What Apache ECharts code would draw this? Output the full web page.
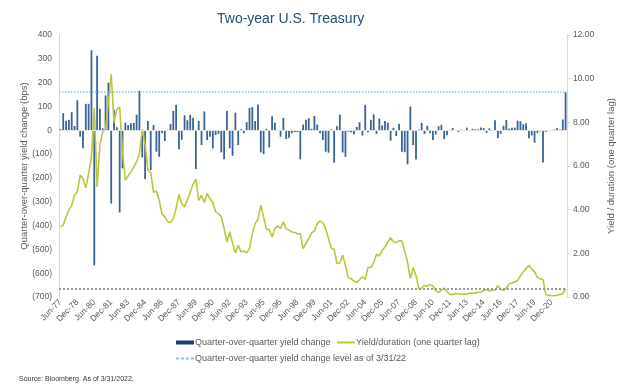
<!DOCTYPE html>
<html><head><meta charset="utf-8">
<script src="https://cdn.jsdelivr.net/npm/echarts@6/dist/echarts.min.js"></script>
<style>html,body{margin:0;padding:0;background:#fff}#c{width:624px;height:388px}</style>
</head><body><div id="c"></div>
<script>
const quarterMonths = ['Mar', 'Jun', 'Sep', 'Dec'];
const startYear = 1977;
const startQuarter = 1; // Jun-77

// Quarter-over-quarter 2-year yield change (bps), Jun-77 .. Mar-22
const qoqChange = [
  5, 72, 40, 44, 76, 18, 126, -27, -76, 111,
  111, 336, -567, 313, 90, 8, 146, 200, -308, 86,
  13, -345, -160, 32, 22, 30, 31, 65, 166, -114,
  -205, 39, -167, 22, -90, -111, -13, -45, 1, 27,
  81, 107, -80, -40, 63, 42, 65, 53, -163, 39,
  -62, 79, -41, -27, -76, -20, -15, -93, -122, 81,
  -76, -107, 74, -62, 4, -13, 34, 94, 97, 39,
  108, -93, -100, 6, -72, 59, 32, -3, -27, 52,
  -37, -31, -13, -8, -8, -122, 24, 44, 51, 6,
  60, 24, -13, -41, -90, -94, 4, -136, 17, 66,
  -93, -112, -6, -8, -17, 14, 34, -22, 107, -8,
  44, 67, -15, 49, 20, 39, 32, -44, 10, -24,
  27, -90, -92, -143, 100, -62, -123, 3, 31, -16,
  19, -12, -41, -18, 17, 23, -37, -21, -1, 9,
  -3, -7, 2, 0, 11, -4, 6, 4, 4, 12,
  9, -11, 8, 0, 42, -33, -15, 19, 43, 7,
  11, 11, 40, 38, 26, 29, -33, -22, -52, -12,
  -5, -135, -7, -3, 0, 3, 9, 3, 45, 160
];

// Yield / duration (one quarter lag)
const yieldDuration = [
  3.21, 3.29, 3.67, 3.98, 4.2, 4.66, 4.82, 5.58, 5.43, 5.0,
  5.66, 6.42, 8.67, 5.05, 6.96, 7.55, 7.7, 8.9, 10.2, 8.0,
  8.6, 8.7, 6.6, 5.35, 5.55, 5.73, 5.96, 6.19, 6.57, 7.68,
  7.0, 5.81, 5.7, 4.8, 4.85, 4.43, 3.8, 3.67, 3.45, 3.4,
  3.59, 4.05, 4.71, 4.28, 4.13, 4.45, 4.8, 5.15, 5.4, 4.43,
  4.66, 4.33, 4.74, 4.51, 4.33, 3.9, 3.82, 3.67, 3.15, 2.52,
  2.98, 2.45, 2.02, 2.37, 2.06, 2.11, 2.02, 2.22, 2.9, 3.36,
  3.56, 4.2, 3.67, 3.1, 3.1, 2.75, 3.13, 3.26, 3.13, 3.44,
  3.13, 3.06, 2.98, 2.95, 2.9, 2.9, 2.22, 2.45, 2.68, 2.94,
  3.03, 3.36, 3.49, 3.39, 3.13, 2.68, 2.22, 2.19, 1.53, 1.56,
  1.91, 1.45, 0.89, 0.84, 0.73, 0.66, 0.8, 0.92, 0.8, 1.35,
  1.35, 1.56, 1.96, 1.87, 2.14, 2.29, 2.52, 2.72, 2.52, 2.48,
  2.57, 2.57, 2.1, 1.6, 0.84, 1.35, 0.99, 0.38, 0.4, 0.54,
  0.49, 0.57, 0.5, 0.3, 0.2, 0.31, 0.41, 0.23, 0.12, 0.12,
  0.16, 0.15, 0.12, 0.12, 0.13, 0.18, 0.16, 0.19, 0.21, 0.23,
  0.29, 0.34, 0.28, 0.32, 0.32, 0.52, 0.36, 0.3, 0.4, 0.6,
  0.64, 0.7, 0.76, 0.97, 1.15, 1.3, 1.45, 1.28, 1.15, 0.9,
  0.83, 0.8, 0.12, 0.08, 0.06, 0.06, 0.08, 0.12, 0.15, 0.37
];

const leftTicks = { min: -700, max: 400, interval: 100 };
const rightTicks = { min: 0, max: 12, interval: 2 };

const categories = [];
for (let i = 0; i < qoqChange.length; i++) {
  const k = startQuarter + i;
  const y = startYear + Math.floor(k / 4);
  categories.push(quarterMonths[k % 4] + '-' + String(y % 100).padStart(2, '0'));
}
const lastChange = qoqChange[qoqChange.length - 1];
const lastYD = yieldDuration[yieldDuration.length - 1];

const FONT = "'Liberation Sans', Arial, sans-serif";
const GRAY = '#595959';
const BAR = '#3A6496';
const BAR_ICON = '#1F3F73';
const LINE = '#BCC63A';
const DOT = '#7CC8EE';
const DASH_ICON = 'path://M0,0h3v2h-3z M5,0h3v2h-3z M10,0h3v2h-3z M15,0h3v2h-3z';

const legendText = { fontSize: 9, color: GRAY, fontFamily: FONT, padding: [0, 0, 0, -4] };

const chart = echarts.init(document.getElementById('c'), null, { renderer: 'canvas' });
chart.setOption({
  animation: false,
  backgroundColor: '#fff',
  textStyle: { fontFamily: FONT },
  title: {
    text: 'Two-year U.S. Treasury',
    left: 212, top: 7,
    textStyle: { fontFamily: FONT, fontSize: 14, fontWeight: 'normal', color: '#1F4E79' }
  },
  grid: { left: 59, right: 53, top: 35, bottom: 91, containLabel: false },
  legend: [
    { data: [{ name: 'Quarter-over-quarter yield change', icon: 'rect', itemStyle: { color: BAR_ICON } }],
      left: 171, top: 333, itemWidth: 18, itemHeight: 4, textStyle: legendText },
    { data: [{ name: 'Yield/duration (one quarter lag)', icon: 'rect', itemStyle: { color: LINE } }],
      left: 332, top: 333, itemWidth: 18, itemHeight: 2, textStyle: legendText },
    { data: [{ name: 'Quarter-over-quarter yield change level as of 3/31/22', icon: DASH_ICON, itemStyle: { color: DOT } }],
      left: 171, top: 349, itemWidth: 18, itemHeight: 2, textStyle: legendText }
  ],
  xAxis: {
    type: 'category',
    data: categories,
    boundaryGap: true,
    axisLine: { show: false, onZero: false },
    axisTick: { show: false },
    axisLabel: { interval: 5, rotate: 45, fontSize: 8.5, color: GRAY, fontFamily: FONT, margin: 4 }
  },
  yAxis: [
    {
      type: 'value', min: leftTicks.min, max: leftTicks.max, interval: leftTicks.interval,
      name: 'Quarter-over-quarter yield change (bps)', nameLocation: 'middle', nameGap: 30,
      nameMoveOverlap: false,
      nameTextStyle: { fontSize: 9.5, color: GRAY, fontFamily: FONT },
      axisLine: { show: true, lineStyle: { color: '#D9D9D9' } },
      axisTick: { show: false },
      splitLine: { show: false },
      axisLabel: { fontSize: 8.5, color: GRAY, fontFamily: FONT, margin: 7,
        formatter: v => v < 0 ? '(' + (-v) + ')' : String(v) }
    },
    {
      type: 'value', min: rightTicks.min, max: rightTicks.max, interval: rightTicks.interval,
      name: 'Yield / duration (one quarter lag)', nameLocation: 'middle', nameGap: 39, nameRotate: 90,
      nameMoveOverlap: false,
      nameTextStyle: { fontSize: 9.5, color: GRAY, fontFamily: FONT },
      axisLine: { show: true, lineStyle: { color: '#D9D9D9' } },
      axisTick: { show: true, length: 3, lineStyle: { color: '#D9D9D9' } },
      splitLine: { show: false },
      axisLabel: { fontSize: 8.5, color: GRAY, fontFamily: FONT, margin: 6, formatter: v => v.toFixed(2) }
    }
  ],
  series: [
    {
      name: 'Quarter-over-quarter yield change',
      type: 'bar', yAxisIndex: 0, data: qoqChange, barWidth: 1.8,
      itemStyle: { color: BAR },
      markLine: { silent: true, symbol: 'none', label: { show: false },
        lineStyle: { color: '#E3E3E3', type: 'solid', width: 1 }, data: [{ yAxis: 0 }] }
    },
    {
      name: 'Yield/duration (one quarter lag)',
      type: 'line', yAxisIndex: 1, data: yieldDuration, symbol: 'none', showSymbol: false,
      lineStyle: { color: LINE, width: 1.6 }, itemStyle: { color: LINE },
      markLine: { silent: true, symbol: 'none', label: { show: false },
        lineStyle: { color: '#9A9A9A', type: 'dotted', width: 2 }, data: [{ yAxis: lastYD }] },
      z: 3
    },
    {
      name: 'Quarter-over-quarter yield change level as of 3/31/22',
      type: 'line', yAxisIndex: 0, data: [], symbol: 'none',
      lineStyle: { color: DOT, type: 'dotted', width: 1.5 }, itemStyle: { color: DOT },
      markLine: { silent: true, symbol: 'none', label: { show: false },
        lineStyle: { color: DOT, type: 'dotted', width: 1.5 }, data: [{ yAxis: lastChange }] }
    }
  ],
  graphic: [
    { type: 'text', left: 19, top: 376, style: { text: 'Source: Bloomberg. As of 3/31/2022.', fontSize: 7, fill: '#333', fontFamily: FONT } }
  ]
});
</script>
</body></html>
